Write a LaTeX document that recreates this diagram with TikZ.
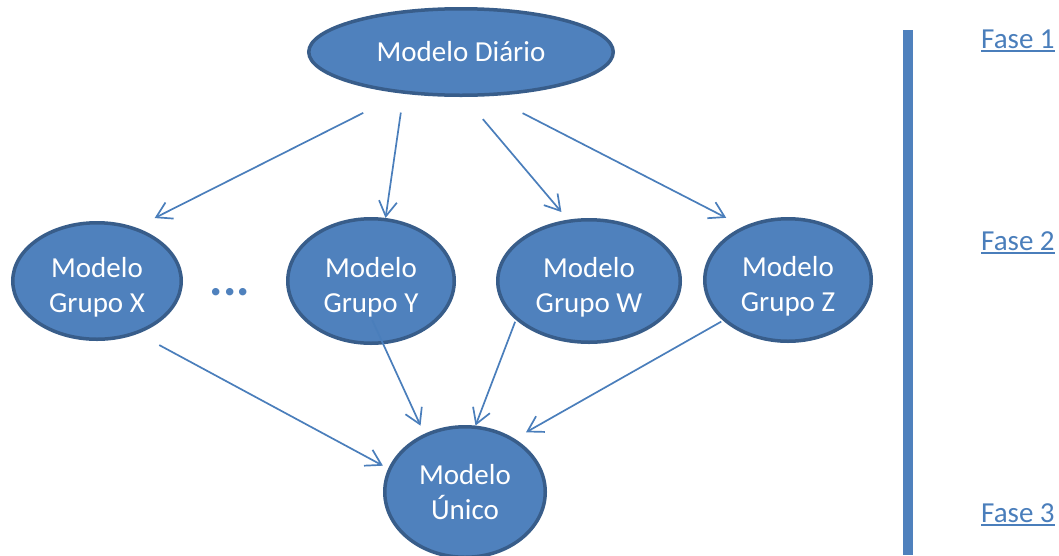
\documentclass[tikz,border=0pt]{standalone}
\usepackage{fontspec}
\setmainfont{Carlito}
\usetikzlibrary{shapes.geometric,arrows.meta}
\definecolor{nodefill}{HTML}{4F81BD}
\definecolor{nodeedge}{HTML}{385D8A}
\definecolor{linkblue}{HTML}{4A7EBB}
% underlined phase label
\newcommand\faseline[1]{\setbox0\hbox{#1}\rlap{\rule[-4pt]{\wd0}{1.8pt}}\box0}
% two-line group label, set a little below the centre
\newcommand\grouplabel[2]{\rule{0pt}{32pt}#1\\#2}
\begin{document}
\begin{tikzpicture}[x=1pt,y=-1pt,
  model/.style={ellipse, draw=nodeedge, fill=nodefill, line width=3.5pt,
    inner sep=0pt, text=white, align=center,
    font=\fontsize{29}{35}\selectfont},
  flow/.style={draw=linkblue, line width=1.7pt,
    -{Straight Barb[length=15pt,width=18pt]}},
  fase/.style={anchor=base west, text=linkblue, inner sep=0pt,
    font=\fontsize{29}{35}\selectfont}]
\useasboundingbox (0,0) rectangle (1059,555);

% models
\node[model, minimum width=304.5pt, minimum height=86.5pt] (dia) at (461,52) {Modelo Diário};
\node[model, minimum width=168.5pt, minimum height=116.5pt] (gx) at (97,281) {\grouplabel{Modelo}{Grupo X}};
\node[model, minimum width=166.5pt, minimum height=124.5pt] (gy) at (371,281) {\grouplabel{Modelo}{Grupo Y}};
\node[model, minimum width=182.5pt, minimum height=122.5pt] (gw) at (589,281) {\grouplabel{Modelo}{Grupo W}};
\node[model, minimum width=166.5pt, minimum height=122.5pt] (gz) at (788,280) {\grouplabel{Modelo}{Grupo Z}};
\node[model, minimum width=160.5pt, minimum height=130.5pt] (un) at (465,492) {Modelo\\Único};

\node[text=nodefill, font=\fontsize{50}{50}\selectfont\bfseries, anchor=base, inner sep=0pt] (dots) at (230,295) {...};

% phase 1 -> phase 2
\draw[flow, shorten <=43pt, shorten >=21pt] (dia.215.5) -- (gx.54.4);
\draw[flow, shorten <=19pt] (dia.216.9) -- (gy.77.6);
\draw[flow, shorten <=29pt, shorten >=10pt] (dia.274.6) -- (gw.109.4);
\draw[flow, shorten <=37pt, shorten >=19pt] (dia.303.7) -- (gz.130.3);

% phase 2 -> phase 3
\draw[flow, shorten <=24pt, shorten >=6pt] (gx.308.4) -- (un.163.2);
\draw[flow, shorten <=-26.6pt, shorten >=9pt] (gy.281.4) -- (un.125.6);
\draw[flow, shorten <=2pt] (gw.208) -- (un.81.4);
\draw[flow, shorten <=2pt, shorten >=13pt] (gz.212.5) -- (un.47.8);

% phase ruler
\fill[nodefill] (903,30) rectangle (913,555);
\node[fase] (f1) at (981,48) {\faseline{Fase 1}};
\node[fase] (f2) at (981,250) {\faseline{Fase 2}};
\node[fase] (f3) at (981,522) {\faseline{Fase 3}};
\end{tikzpicture}
\end{document}
